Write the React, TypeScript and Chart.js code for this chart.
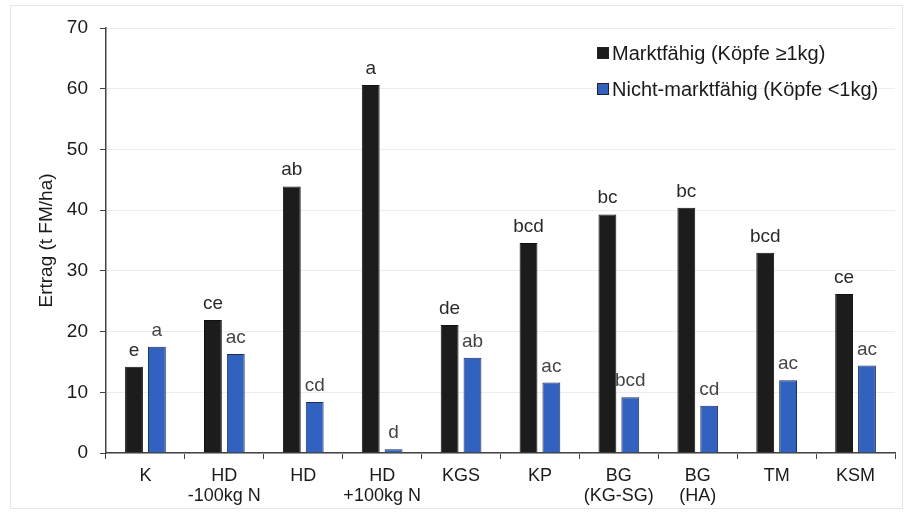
import React, { useEffect, useRef } from "react";
import { Chart, registerables } from "chart.js";

Chart.register(...registerables);

// Treatments (x categories), multi-line labels
const categories: string[][] = [
  ["K"],
  ["HD", "-100kg N"],
  ["HD"],
  ["HD", "+100kg N"],
  ["KGS"],
  ["KP"],
  ["BG", "(KG-SG)"],
  ["BG", "(HA)"],
  ["TM"],
  ["KSM"],
];

// Yield in t FM/ha
const marketable: number[] = [14.2, 21.9, 43.9, 60.6, 21.1, 34.6, 39.3, 40.4, 33.0, 26.2];
const nonMarketable: number[] = [17.5, 16.3, 8.4, 0.6, 15.7, 11.6, 9.2, 7.8, 12.0, 14.4];

// Significance letters above the bars
const marketableLetters: string[] = ["e", "ce", "ab", "a", "de", "bcd", "bc", "bc", "bcd", "ce"];
const nonMarketableLetters: string[] = ["a", "ac", "cd", "d", "ab", "ac", "bcd", "cd", "ac", "ac"];

const seriesNames: string[] = ["Marktfähig (Köpfe ≥1kg)", "Nicht-marktfähig (Köpfe <1kg)"];
const yTicks: number[] = [0, 10, 20, 30, 40, 50, 60, 70];

const FONT = "'Liberation Sans', Arial, sans-serif";
const BLACK = "#1c1c1c";
const BLUE = "#3262c0";

const letterPlugin = {
  id: "letters",
  afterDatasetsDraw(chart: any) {
    const ctx = chart.ctx;
    const sets = [marketableLetters, nonMarketableLetters];
    const colors = ["#2a2a2a", "#444444"];
    ctx.save();
    ctx.font = `19px ${FONT}`;
    ctx.textAlign = "center";
    ctx.textBaseline = "alphabetic";
    sets.forEach((letters, di) => {
      const meta = chart.getDatasetMeta(di);
      meta.data.forEach((bar: any, i: number) => {
        ctx.fillStyle = colors[di];
        ctx.fillText(letters[i], bar.x, bar.y - 11);
      });
    });
    ctx.restore();
  },
};

const legendPlugin = {
  id: "boxLegend",
  afterDraw(chart: any) {
    const ctx = chart.ctx;
    const area = chart.chartArea;
    const x = area.right - 298;
    const rows = [area.top + 25, area.top + 61];
    const fills = [BLACK, BLUE];
    ctx.save();
    ctx.font = `20px ${FONT}`;
    ctx.textBaseline = "middle";
    ctx.textAlign = "left";
    rows.forEach((y, i) => {
      ctx.fillStyle = fills[i];
      ctx.fillRect(x, y - 6, 12, 12);
      ctx.strokeStyle = "#222";
      ctx.lineWidth = 1;
      ctx.strokeRect(x + 0.5, y - 5.5, 11, 11);
      ctx.fillStyle = "#1a1a1a";
      ctx.fillText(seriesNames[i], x + 15, y + 1);
    });
    ctx.restore();
  },
};

const framePlugin = {
  id: "frame",
  beforeDraw(chart: any) {
    const ctx = chart.ctx;
    ctx.save();
    ctx.strokeStyle = "#e6e6e6";
    ctx.lineWidth = 1;
    ctx.strokeRect(10.5, 5.5, chart.width - 19, chart.height - 12);
    ctx.restore();
  },
};

export default function App() {
  const canvasRef = useRef<HTMLCanvasElement | null>(null);

  useEffect(() => {
    if (!canvasRef.current) return;
    const chart = new Chart(canvasRef.current, {
      type: "bar",
      data: {
        labels: categories,
        datasets: [
          {
            label: seriesNames[0],
            data: marketable,
            backgroundColor: BLACK,
            borderColor: "#111",
            borderWidth: 1,
            categoryPercentage: 0.58,
            barPercentage: 0.78,
          },
          {
            label: seriesNames[1],
            data: nonMarketable,
            backgroundColor: BLUE,
            borderColor: "#1d2d55",
            borderWidth: 1,
            categoryPercentage: 0.58,
            barPercentage: 0.78,
          },
        ],
      },
      options: {
        animation: false,
        responsive: true,
        maintainAspectRatio: false,
        layout: { padding: { left: 0, right: 16, top: 28, bottom: 0 } },
        plugins: {
          legend: { display: false },
          tooltip: { enabled: false },
        },
        scales: {
          x: {
            grid: {
              drawOnChartArea: false,
              drawTicks: true,
              tickLength: 6,
              tickColor: "#444",
              offset: true,
            },
            border: { color: "#444", width: 1.5 },
            ticks: {
              color: "#1a1a1a",
              font: { family: FONT, size: 18, lineHeight: 1.11 },
              padding: 7,
              maxRotation: 0,
              autoSkip: false,
            },
            afterFit(scale: any) {
              scale.height = 62;
            },
          },
          y: {
            min: 0,
            max: 70,
            afterBuildTicks(scale: any) {
              scale.ticks = yTicks.map((v) => ({ value: v }));
            },
            grid: {
              color: "#ececec",
              tickColor: "#444",
              tickLength: 6,
            },
            border: { color: "#444", width: 1.5 },
            ticks: {
              color: "#1a1a1a",
              font: { family: FONT, size: 19 },
              padding: 12,
            },
            title: {
              display: true,
              text: "Ertrag (t FM/ha)",
              color: "#1a1a1a",
              font: { family: FONT, size: 19, lineHeight: 1.2 },
              padding: { top: 35, bottom: 0 },
            },
            afterFit(scale: any) {
              scale.width = 106;
            },
          },
        },
      },
      plugins: [framePlugin, letterPlugin, legendPlugin],
    });
    return () => chart.destroy();
  }, []);

  return (
    <div style={{ position: "fixed", left: 0, top: 0, width: 911, height: 515, background: "#fff" }}>
      <canvas ref={canvasRef} />
    </div>
  );
}
